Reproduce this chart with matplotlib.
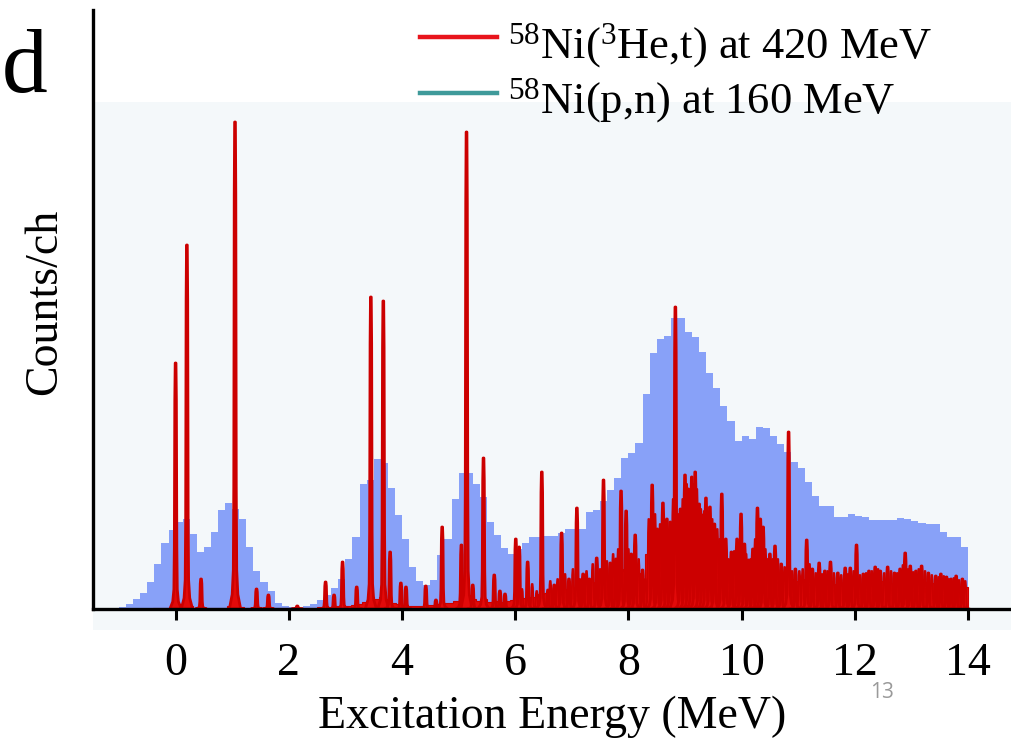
import numpy as np
import matplotlib
matplotlib.use("Agg")
import matplotlib.pyplot as plt
from matplotlib.patches import Rectangle
from matplotlib.lines import Line2D
from matplotlib.collections import PolyCollection

plt.rcParams["font.family"] = ["Liberation Serif", "DejaVu Serif"]
plt.rcParams["mathtext.fontset"] = "custom"
plt.rcParams["mathtext.rm"] = "Liberation Serif"
plt.rcParams["mathtext.it"] = "Liberation Serif:italic"
plt.rcParams["mathtext.bf"] = "Liberation Serif:bold"

# ---- 58Ni(p,n) at 160 MeV : histogram, 0.125 MeV bins starting at -1.0 MeV ----
pn_start, pn_width = -1.0, 0.125
pn_counts = [
    2, 5, 10, 16, 27, 45, 66, 79,                 # -1 .. 0
    87, 90, 75, 57, 62, 77, 99, 106,              # 0 .. 1
    100, 90, 62, 38, 27, 18, 6, 3,                # 1 .. 2
    2, 1.5, 3, 5, 9, 14, 21, 30,                  # 2 .. 3
    50, 72, 125, 129, 150, 146, 121, 94,          # 3 .. 4
    70, 42, 28, 24, 29, 54, 70, 110,              # 4 .. 5
    136, 136, 125, 112, 87, 74, 61, 55,           # 5 .. 6
    60, 66, 72, 72, 73, 73, 76, 80,               # 6 .. 7
    80, 80, 97, 99, 108, 119, 131, 151,           # 7 .. 8
    156, 166, 215, 256, 270, 273, 291, 291,       # 8 .. 9
    277, 272, 257, 236, 221, 203, 188, 168,       # 9 .. 10
    173, 170, 182, 181, 173, 165, 157, 147,       # 10 .. 11
    141, 127, 113, 103, 103, 92, 92, 95,          # 11 .. 12
    93, 92, 89, 89, 89, 89, 91, 90,               # 12 .. 13
    88, 86, 85, 85, 77, 72, 72, 62,               # 13 .. 14
]

# ---- 58Ni(3He,t) at 420 MeV : continuum in 0.1 MeV bins from -0.5 MeV ----
he_start, he_width = -0.5, 0.1
he_continuum = [
    0.5, 0.8, 0.8, 1, 3,                          # -0.5 .. 0
    5, 4, 3, 1.5, 2, 1.5, 1, 1, 1.5, 3,           # 0 .. 1
    5, 2, 1.5, 1.5, 2, 1.5, 1.5, 1, 1, 1,         # 1 .. 2
    1, 1, 1, 1, 1.5, 2, 3, 2.5, 3, 4,             # 2 .. 3
    3, 4, 5, 7, 12, 10, 12, 10, 6, 5,             # 3 .. 4
    4, 3, 3, 3, 4, 4, 5, 6, 6, 8,                 # 4 .. 5
    12, 14, 10, 8, 10, 7, 8, 7, 8, 9,             # 5 .. 6
    12, 11, 12, 12, 15, 16, 15, 18, 20, 19,       # 6 .. 7
    22, 21, 24, 26, 27, 30, 30, 34, 38, 40,       # 7 .. 8
    38, 36, 22, 55, 62, 66, 68, 72, 70, 66,       # 8 .. 9
    68, 72, 70, 66, 60, 48, 40, 30, 40, 45,       # 9 .. 10
    40, 30, 45, 48, 30, 40, 30, 28, 30, 28,       # 10 .. 11
    27, 30, 26, 27, 26, 28, 25, 26, 27, 26,       # 11 .. 12
    28, 25, 26, 30, 28, 27, 26, 28, 32, 30,       # 12 .. 13
    28, 30, 27, 26, 25, 26, 24, 25, 23, 22,       # 13 .. 14
]

# discrete states of the (3He,t) spectrum: excitation energy (MeV) and peak counts
he_peak_energy = [
    0.00, 0.20, 0.45, 1.05, 1.43, 1.64, 2.15, 2.65, 2.80, 2.95,
    3.20, 3.45, 3.67, 3.79, 3.98, 4.07, 4.42, 4.60, 4.71, 5.05,
    5.14, 5.25, 5.44, 5.63, 5.73, 5.82, 6.01, 6.07, 6.22, 6.47,
    6.58, 6.69, 6.82, 6.95, 7.09, 7.20, 7.31, 7.44, 7.56, 7.68,
    7.78, 7.87, 7.96, 8.05, 8.12, 8.25, 8.42, 8.51, 8.61, 8.68,
    8.74, 8.83, 8.92, 9.00, 9.06, 9.12, 9.18, 9.25, 9.31, 9.37,
    9.44, 9.52, 9.65, 9.72, 9.82, 9.92, 9.99, 10.05, 10.12, 10.20,
    10.28, 10.33, 10.38, 10.50, 10.59, 10.70, 10.83, 10.95, 11.15, 11.25,
    11.37, 11.47, 11.57, 11.70, 11.83, 11.92, 12.03, 12.15, 12.25, 12.36,
    12.45, 12.58, 12.70, 12.80, 12.89, 12.98, 13.08, 13.18, 13.30, 13.43,
    13.52, 13.62, 13.70, 13.79, 13.90,
]
he_peak_counts = [
    246, 364, 30, 487, 20, 14, 3, 27, 14, 47,
    22, 312, 308, 57, 26, 22, 23, 9, 82, 64,
    477, 24, 151, 34, 18, 15, 70, 62, 47, 137,
    19, 24, 76, 30, 101, 35, 30, 51, 129, 46,
    50, 118, 98, 55, 74, 39, 124, 80, 106, 90,
    87, 302, 100, 134, 120, 132, 137, 105, 94, 111,
    102, 85, 115, 70, 57, 70, 95, 65, 49, 60,
    101, 90, 82, 55, 63, 45, 177, 40, 69, 40,
    46, 38, 47, 36, 41, 41, 64, 35, 38, 42,
    38, 42, 36, 40, 56, 43, 38, 43, 36, 33,
    35, 32, 30, 33, 30,
]

# weaker unresolved structures riding on the continuum above 6 MeV
he_minor_energy = [
    6.12, 6.30, 6.38, 6.62, 6.75, 6.88, 7.02, 7.14, 7.26, 7.37,
    7.50, 7.62, 7.73, 7.82, 8.00, 8.18, 8.30, 8.36, 8.47, 8.56,
    8.79, 8.88, 8.96, 9.03, 9.09, 9.15, 9.21, 9.28, 9.34, 9.41,
    9.48, 9.57, 9.61, 9.69, 9.77, 9.87, 9.95, 10.08, 10.16, 10.24,
    10.42, 10.46, 10.55, 10.64, 10.76, 10.89, 11.02, 11.08, 11.20, 11.31,
    11.42, 11.52, 11.63, 11.76, 11.88, 11.98, 12.09, 12.20, 12.30, 12.41,
    12.52, 12.64, 12.75, 12.85, 12.94, 13.03, 13.13, 13.24, 13.36, 13.48,
    13.57, 13.66, 13.75, 13.84, 13.95,
]
he_minor_counts = [
    20, 25, 18, 28, 30, 35, 40, 30, 38, 45,
    40, 48, 55, 60, 60, 50, 30, 90, 95, 85,
    110, 95, 110, 125, 115, 125, 120, 100, 98, 95,
    90, 80, 70, 65, 50, 58, 60, 55, 50, 70,
    60, 50, 50, 50, 42, 38, 38, 40, 45, 36,
    35, 38, 36, 34, 35, 38, 34, 36, 38, 40,
    36, 38, 36, 44, 40, 37, 40, 38, 34, 32,
    33, 30, 31, 29, 28,
]

xticks = [0, 2, 4, 6, 8, 10, 12, 14]
xtick_labels = ["0", "2", "4", "6", "8", "10", "12", "14"]

BLUE = "#88a1f8"
RED = "#e20a0a"
RED_EDGE = "#cc0000"
TEAL = "#3f9a9a"

W, H = 1012, 747
fig = plt.figure(figsize=(W / 100, H / 100), dpi=100)

# light slide panel behind the plot
panel = Rectangle((93 / W, (H - 630) / H), 1 - 93 / W, (630 - 102) / H,
                  transform=fig.transFigure, facecolor="#f4f8fa",
                  edgecolor="none", zorder=-1)
fig.patches.append(panel)

ax = fig.add_axes([93 / W, (H - 609) / H, (W - 93) / W, (609 - 10) / H])
ax.set_zorder(2)
ax.set_facecolor("none")
ax.set_xlim(-1.459, 14.777)
ax.set_ylim(0, 599)

# (p,n) histogram
pn_edges = pn_start + pn_width * np.arange(len(pn_counts) + 1)
ax.stairs(pn_counts, pn_edges, fill=True, color=BLUE, zorder=2)

# (3He,t) continuum
he_edges = he_start + he_width * np.arange(len(he_continuum) + 1)
ax.stairs(he_continuum, he_edges, fill=True, facecolor=RED, edgecolor=RED_EDGE,
          linewidth=0.8, zorder=3)

# (3He,t) peaks drawn as narrow spikes with a slightly wider foot
dx = np.array([-0.10, -0.05, -0.03, -0.022, -0.014, -0.007,
               0.007, 0.014, 0.022, 0.03, 0.05, 0.10])
fy = np.array([0.0, 0.03, 0.08, 0.25, 0.85, 1.0, 1.0, 0.85, 0.25, 0.08, 0.03, 0.0])


def spikes(energies, counts):
    return [np.column_stack([e + dx, h * fy]) for e, h in zip(energies, counts)]


ax.add_collection(PolyCollection(spikes(he_minor_energy, he_minor_counts),
                                 facecolors=RED, edgecolors=RED_EDGE,
                                 linewidths=1.3, zorder=4))
ax.add_collection(PolyCollection(spikes(he_peak_energy, he_peak_counts),
                                 facecolors=RED, edgecolors=RED_EDGE,
                                 linewidths=2.0, zorder=5))

# axes styling
for side in ("top", "right"):
    ax.spines[side].set_visible(False)
ax.spines["left"].set_linewidth(2.4)
ax.spines["bottom"].set_linewidth(2.4)
ax.spines["left"].set_zorder(6)
ax.spines["bottom"].set_zorder(6)
ax.set_yticks([])
ax.set_xticks(xticks)
ax.set_xticklabels(xtick_labels, fontsize=33)
ax.tick_params(axis="x", direction="out", length=8, width=2.2, pad=16)

ax.set_xlabel("Excitation Energy (MeV)", fontsize=33, labelpad=8)
fig.text(45 / W, 1 - 302 / H, "Counts/ch", rotation=90, fontsize=33,
         ha="center", va="center")

# heading letter at the left edge
fig.text(2 / W, 1 - 92 / H, "d", fontsize=66, ha="left", va="baseline")

# legend
fig.add_artist(Line2D([420 / W, 497 / W], [1 - 37 / H, 1 - 37 / H],
                      transform=fig.transFigure, color="#e8141c", linewidth=3.2))
fig.add_artist(Line2D([420 / W, 497 / W], [1 - 93 / H, 1 - 93 / H],
                      transform=fig.transFigure, color=TEAL, linewidth=3.2))
fig.text(508 / W, 1 - 58 / H, r"$^{58}$Ni($^{3}$He,t) at 420 MeV", fontsize=32,
         ha="left", va="baseline")
fig.text(508 / W, 1 - 113 / H, r"$^{58}$Ni(p,n) at 160 MeV", fontsize=32,
         ha="left", va="baseline")

# slide number
fig.text(882 / W, 1 - 693 / H, "13", fontsize=15, color="#9a9a9a",
         family=["Open Sans", "DejaVu Sans"], ha="center", va="center")

fig.savefig("out.png", dpi=100)
